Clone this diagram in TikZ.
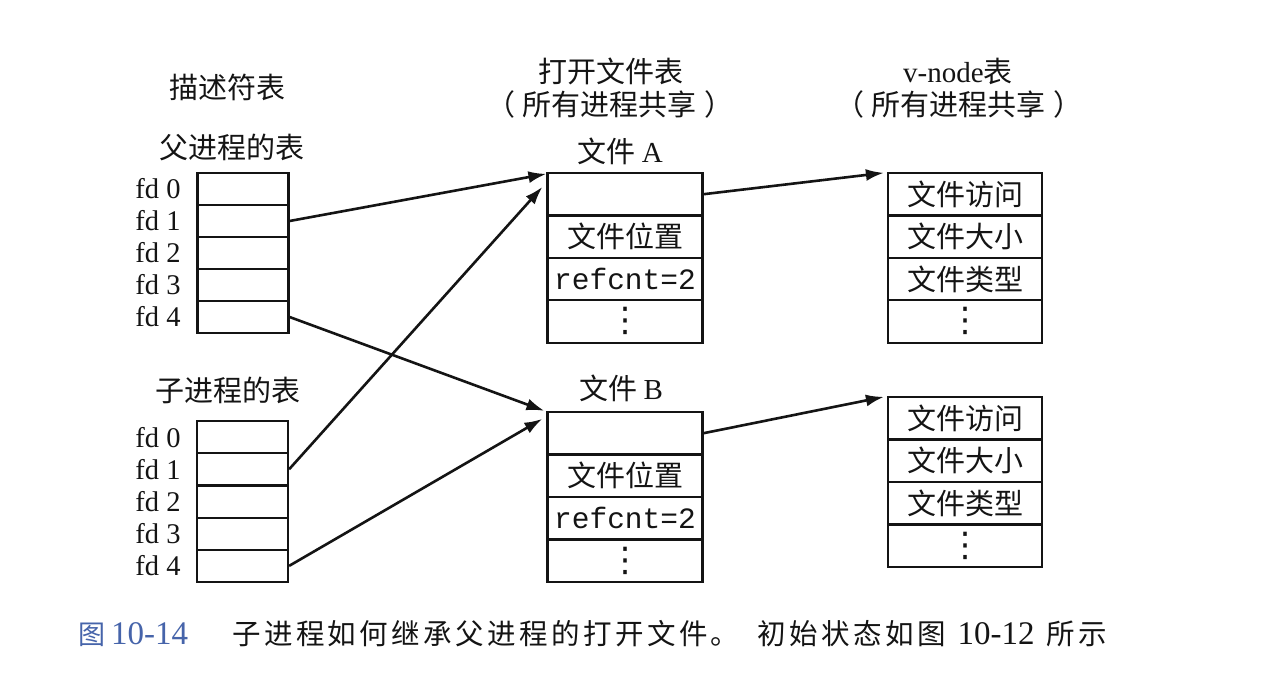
\documentclass[tikz,border=0pt]{standalone}
\usepackage{fontspec}
\setmainfont{Liberation Serif}
\setmonofont{Liberation Mono}
\newfontfamily\cjk{Noto Sans CJK SC}
\newfontfamily\capcjk[LetterSpace=12]{Noto Sans CJK SC}
\newfontfamily\djv{DejaVu Sans}
\usetikzlibrary{arrows.meta}
\definecolor{capblue}{RGB}{70,100,170}
\definecolor{ink}{RGB}{20,20,20}
\newcommand\vdotsbig{{\fontsize{34}{36}\selectfont\djv ⋮}}
\begin{document}
\begin{tikzpicture}[x=1pt,y=-1pt,
  fdcell/.style={draw=ink, line width=2.2pt, minimum width=91pt, minimum height=32.2pt, inner sep=0pt},
  ftcell/.style={draw=ink, line width=2.2pt, minimum width=155pt, minimum height=42.5pt, inner sep=0pt, text=ink, font=\fontsize{29}{31}\selectfont\cjk},
  vncell/.style={ftcell, minimum width=154pt},
  fdlabel/.style={font=\fontsize{28.5}{30}\selectfont, inner sep=0pt, text=ink},
  head/.style={font=\fontsize{29}{31}\selectfont\cjk, inner sep=0pt, text=ink},
  arr/.style={draw=ink, line width=2.6pt, -{Latex[length=18pt,width=12pt]}},
]
\fill[white] (0,0) rectangle (1266,680);
\useasboundingbox (0,0) rectangle (1266,680);

% headers
\node[head] (hdesc) at (227,87) {描述符表};
\node[head] (hpar) at (232,147) {父进程的表};
\node[head] (hchild) at (228,390) {子进程的表};
\node[head] (hopen) at (611,71) {打开文件表};
\node[head] (hopen2) at (610,104) {（\hspace{8pt}所有进程共享\hspace{8pt}）};
\node[head] (hvn) at (958,71) {{\rmfamily v-node}表};
\node[head] (hvn2) at (959,104) {（\hspace{8pt}所有进程共享\hspace{8pt}）};
\node[head] (hfa) at (620,151) {文件 {\rmfamily A}};
\node[head] (hfb) at (621,388) {文件 {\rmfamily B}};

% parent table
\foreach \i/\y in {0/189,1/221,2/253,3/285,4/317}{
  \node[fdcell] (p\i) at (243,\y) {};
  \node[fdlabel] (pl\i) at (158,\y) {fd \i};
}
% child table
\foreach \i/\y in {0/437.1,1/469.3,2/501.5,3/533.7,4/565.9}{
  \node[fdcell] (c\i) at (242.5,\y) {};
  \node[fdlabel] (cl\i) at (158,\y) {fd \i};
}

% open file table A
\node[ftcell] (fa0) at (625,194.2) {};
\node[ftcell] (fa1) at (625,236.6) {文件位置};
\node[ftcell] (fa2) at (625,279.0) {\fontsize{29.5}{31}\ttfamily refcnt=2};
\node[ftcell] (fa3) at (625,321.4) {\vdotsbig};
% open file table B
\node[ftcell] (fb0) at (625,433.2) {};
\node[ftcell] (fb1) at (625,475.7) {文件位置};
\node[ftcell] (fb2) at (625,518.2) {\fontsize{29.5}{31}\ttfamily refcnt=2};
\node[ftcell] (fb3) at (625,560.7) {\vdotsbig};

% v-node table A
\node[vncell] (va0) at (965,194.2) {文件访问};
\node[vncell] (va1) at (965,236.6) {文件大小};
\node[vncell] (va2) at (965,279.0) {文件类型};
\node[vncell] (va3) at (965,321.4) {\vdotsbig};
% v-node table B
\node[vncell] (vb0) at (965,418.2) {文件访问};
\node[vncell] (vb1) at (965,460.7) {文件大小};
\node[vncell] (vb2) at (965,503.2) {文件类型};
\node[vncell] (vb3) at (965,545.7) {\vdotsbig};

% connectors
\draw[arr] (p1.east) -- ([yshift=-2pt]fa0.north west);
\draw[arr] (c1.east) -- ([xshift=-4pt,yshift=-15pt]fa0.north west);
\draw[arr] (p4.east) -- ([xshift=-2pt]fb0.north west);
\draw[arr] (c4.east) -- ([xshift=-4pt,yshift=-8pt]fb0.north west);
\draw[arr] (fa0.east) -- ([xshift=-3pt,yshift=-1pt]va0.north west);
\draw[arr] (fb0.east) -- ([xshift=-3pt,yshift=-1pt]vb0.north west);

% caption
\node[anchor=west, inner sep=0pt] (cap) at (78,634) {\fontsize{27}{30}\selectfont\color{capblue}{\cjk 图}\hspace{6pt}{\rmfamily\fontsize{33}{35}\selectfont 10-14}\hspace{44pt}\color{ink}\fontsize{28.5}{30}\selectfont\capcjk 子进程如何继承父进程的打开文件。\hspace{18pt}初始状态如图\hspace{12pt}{\rmfamily\fontsize{33}{35}\selectfont 10-12}\hspace{12pt}所示};
\end{tikzpicture}
\end{document}
